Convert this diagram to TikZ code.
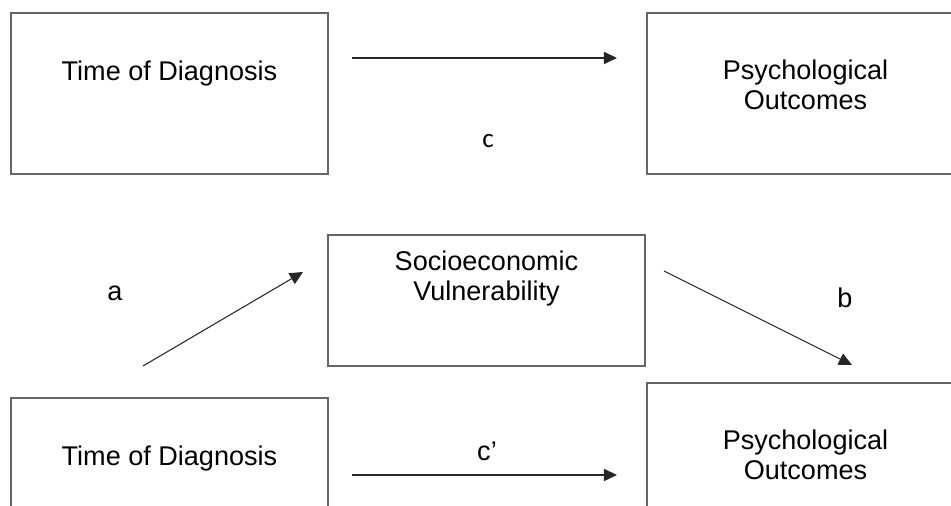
\documentclass[tikz,border=0pt]{standalone}
\usepackage{fontspec}
\setmainfont{Liberation Sans}
\newfontfamily\calfont{Carlito}
\usetikzlibrary{arrows.meta}
\tikzset{
    mybox/.style = {rectangle, draw=black!60, line width=0.7pt, anchor=north west, inner sep=0pt, outer sep=0pt, minimum width=6.34cm, align=center},
    tallbox/.style = {mybox, text height=1.36cm, text depth=1.86cm},
    twobox/.style = {mybox, text height=1.94cm, text depth=1.28cm},
    flatbox/.style = {mybox, text height=1.32cm, text depth=1.30cm},
    mylabel/.style = {anchor=base, inner sep=0pt},
    edgen/.style = {-{Triangle[length=7.5pt,width=7pt]}, line width=0.6pt, black!85},
}
\begin{document}
\begin{tikzpicture}[
    x=0.02cm, y=-0.02cm,
    font=\fontsize{15.4pt}{17.1pt}\selectfont]

  \useasboundingbox (0,0) rectangle (951,506);

  % total effect
  \node[tallbox] (td1) at (11,13) {Time of Diagnosis};
  \node[twobox] (po1) at (647,13) {Psychological\\Outcomes};
  \coordinate (cstart) at (352,58);
  \coordinate (cend) at (617,58);
  \draw[edgen] (cstart) -- (cend);
  \node[mylabel] (lc) at (488,148) {\calfont c};

  % mediation model
  \node[flatbox] (sv) at (328,235) {Socioeconomic\\Vulnerability};
  \node[tallbox] (td2) at (11,398) {Time of Diagnosis};
  \node[twobox] (po2) at (647,383) {Psychological\\Outcomes};
  \coordinate (astart) at (143,366);
  \coordinate (aend) at (303,272);
  \coordinate (bstart) at (664,271);
  \coordinate (bend) at (852,365);
  \coordinate (dstart) at (352,475);
  \coordinate (dend) at (617,475);
  \draw[edgen] (astart) -- (aend);
  \draw[edgen] (bstart) -- (bend);
  \draw[edgen] (dstart) -- (dend);
  \node[mylabel] (la) at (115,301) {a};
  \node[mylabel] (lb) at (845,308) {b};
  \node[mylabel] (ld) at (487,461) {c’};

\end{tikzpicture}
\end{document}
